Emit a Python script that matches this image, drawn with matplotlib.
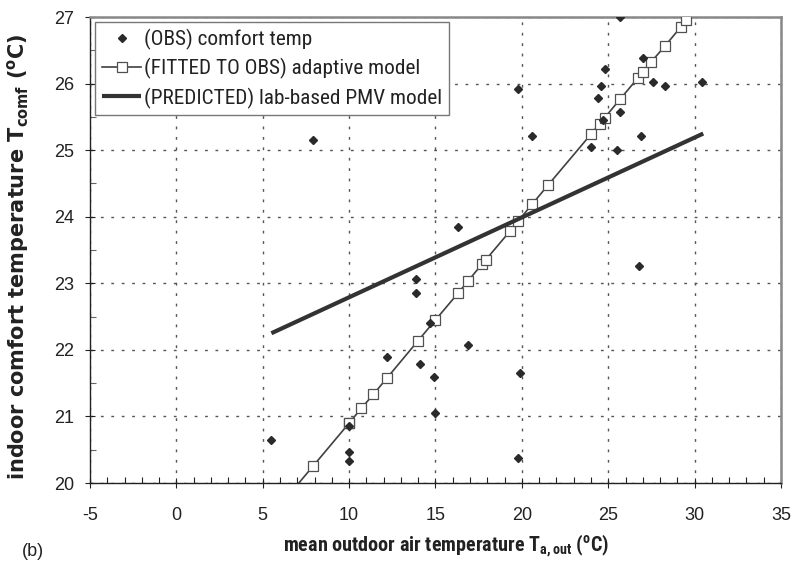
import matplotlib
matplotlib.use("Agg")
import matplotlib.pyplot as plt
from matplotlib.ticker import MultipleLocator
from matplotlib import font_manager

plt.rcParams['font.family'] = ['Liberation Sans', 'DejaVu Sans']
plt.rcParams['mathtext.default'] = 'regular'

names = {f.name for f in font_manager.fontManager.ttflist}
NARROW = None
for cand in ['Liberation Sans Narrow', 'Arial Narrow', 'Roboto Condensed']:
    if cand in names:
        NARROW = cand
        break

# observed comfort temperatures
obs_x = [5.5, 7.9, 10.0, 10.0, 10.0, 12.2, 13.9, 13.9, 14.1, 14.7, 14.9, 15.0, 16.3, 16.9,
         19.8, 19.9, 19.8, 20.6, 24.0, 24.4, 24.6, 24.8, 24.7, 25.5, 25.7, 25.7, 26.8,
         26.9, 27.0, 27.6, 28.3, 30.4]
obs_y = [20.64, 25.16, 20.85, 20.47, 20.33, 21.89, 23.06, 22.85, 21.79, 22.4, 21.6, 21.05, 23.85, 22.07,
         25.92, 21.65, 20.37, 25.22, 25.05, 25.78, 25.96, 26.22, 25.45, 25.0, 25.58, 27.0, 23.26,
         25.22, 26.38, 26.03, 25.96, 26.03]

# fitted adaptive model
fit_x = [5.5, 7.9, 10.0, 10.0, 10.7, 11.4, 12.2, 14.0, 15.0, 16.3, 16.9, 17.7, 17.9, 19.3, 19.8,
         20.6, 21.5, 24.0, 24.5, 24.8, 25.7, 26.7, 27.0, 27.5, 28.3, 29.2, 29.5, 30.4]
fit_y = [19.51, 20.25, 20.90, 20.90, 21.12, 21.33, 21.58, 22.14, 22.45, 22.85, 23.04, 23.29, 23.35,
         23.78, 23.94, 24.19, 24.47, 25.24, 25.40, 25.49, 25.77, 26.08, 26.17, 26.33, 26.57, 26.85,
         26.95, 27.22]

# predicted PMV model
pmv_x = [5.5, 30.5]
pmv_y = [22.25, 25.25]

xticks = [-5, 0, 5, 10, 15, 20, 25, 30, 35]
yticks = [20, 21, 22, 23, 24, 25, 26, 27]

fig = plt.figure(figsize=(7.92, 5.68), dpi=100)
ax = fig.add_axes([0.1136, 0.1496, 0.8725, 0.8204])

ax.plot(obs_x, obs_y, linestyle='none', marker='D', markersize=4.4, color='#2a2a2a',
        label='(OBS) comfort temp', zorder=4)
ax.plot(fit_x, fit_y, color='#404040', linewidth=1.2, marker='s', markersize=6.5,
        markerfacecolor='white', markeredgecolor='#505050', markeredgewidth=0.9,
        label='(FITTED TO OBS) adaptive model', zorder=3)
ax.plot(pmv_x, pmv_y, color='#333333', linewidth=3.0, solid_capstyle='butt',
        label='(PREDICTED) lab-based PMV model', zorder=3)

ax.set_xlim(-5, 35)
ax.set_ylim(20, 27)
ax.set_xticks(xticks)
ax.set_yticks(yticks)
ax.set_xticklabels([str(t) for t in xticks])
ax.set_yticklabels([str(t) for t in yticks])
ax.xaxis.set_minor_locator(MultipleLocator(1))
ax.yaxis.set_minor_locator(MultipleLocator(0.5))
ax.tick_params(axis='both', which='major', direction='inout', length=7, width=0.8,
               labelsize=13, colors='#222222')
ax.tick_params(axis='x', which='major', pad=14)
ax.tick_params(axis='y', which='major', pad=8)
ax.tick_params(axis='x', which='minor', direction='in', length=4, width=0.8, color='#222222')
ax.tick_params(axis='y', which='minor', direction='in', length=4, width=0.8, color='#666666')
ax.tick_params(top=False, right=False, which='both')

ax.grid(True, which='major', linestyle=(0, (2.0, 5.5)), color='#555555', linewidth=1.0)
ax.set_axisbelow(True)

for s in ['left', 'bottom']:
    ax.spines[s].set_color('#222222')
    ax.spines[s].set_linewidth(1.0)
for s in ['top', 'right']:
    ax.spines[s].set_color('#888888')
    ax.spines[s].set_linewidth(1.8)

if NARROW:
    xl_fam = [NARROW, 'Liberation Sans', 'DejaVu Sans']
    xl_size = 14.5
    lg_fam = [NARROW, 'Liberation Sans', 'DejaVu Sans']
    lg_size = 15.3
else:
    xl_fam = ['Liberation Sans', 'DejaVu Sans']
    xl_size = 12
    lg_fam = ['Liberation Sans', 'DejaVu Sans']
    lg_size = 13

ax.set_xlabel(r'mean outdoor air temperature T$_{a,out}$ ($^{o}$C)', fontsize=xl_size,
              fontweight='bold', color='#222222', family=xl_fam)
ax.xaxis.set_label_coords(0.515, -0.105)
ax.set_ylabel(r'indoor comfort temperature T$_{comf}$ ($^{o}$C)', fontsize=15,
              fontweight='bold', color='#222222', family=['DejaVu Sans'])
ax.yaxis.set_label_coords(-0.086, 0.485)

fig.text(0.028, 0.022, '(b)', fontsize=13, color='#222222')

leg = ax.legend(loc='upper left', frameon=True, fancybox=False,
                prop={'family': lg_fam, 'size': lg_size},
                edgecolor='#777777', framealpha=1, borderpad=0.32, handlelength=1.85,
                handletextpad=0.12, labelspacing=0.38, borderaxespad=0.25)
leg.get_frame().set_linewidth(1.0)
for t in leg.get_texts():
    t.set_color('#222222')

fig.savefig('out.png', dpi=100)
